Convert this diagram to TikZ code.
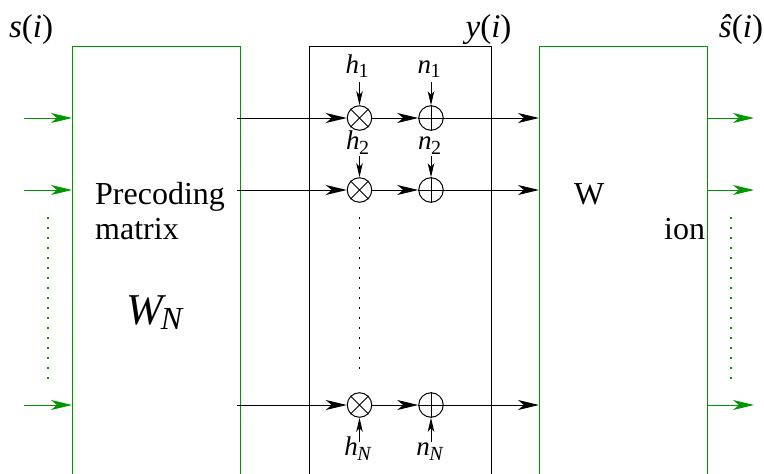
\documentclass[tikz,border=0pt]{standalone}
\usepackage{fontspec}
\setmainfont{Liberation Serif}
\usetikzlibrary{arrows.meta}
\definecolor{grn}{RGB}{0,150,0}
\newcommand{\lowsub}[3]{\textit{#1}\kern-0.5pt\raisebox{-#3pt}{\fontsize{20}{20}\selectfont #2}}
\tikzset{
  lab/.style={inner sep=0pt,anchor=base,font=\fontsize{33}{33}\selectfont},
  small/.style={inner sep=0pt,anchor=base,font=\fontsize{27}{27}\selectfont},
  body/.style={inner sep=0pt,anchor=base west,font=\fontsize{32}{32}\selectfont},
  sum/.style={circle,draw=black,line width=1pt,minimum size=24.5pt,inner sep=0pt},
  bigarrow/.style={line width=1pt,-{Stealth[length=21pt,width=10pt,inset=6pt]}},
  tinyarrow/.style={line width=1pt,-{Stealth[length=14pt,width=6.5pt,inset=3.5pt]}},
  greenline/.style={draw=grn,line width=1pt},
  blackline/.style={draw=black,line width=1pt},
  vdots/.style={line width=1.6pt,dash pattern=on 1.6pt off 8.4pt}
}
\begin{document}
\begin{tikzpicture}[x=1pt,y=-1pt]
\useasboundingbox (0,0) rectangle (764,474);
% boxes (open at the bottom)
\draw[greenline] (72.5,474) -- (72.5,46.5) -- (240.5,46.5) -- (240.5,474);
\draw[blackline] (309.5,474) -- (309.5,46.5) -- (491.5,46.5) -- (491.5,474);
\draw[greenline] (539.5,474) -- (539.5,46.5) -- (707.5,46.5) -- (707.5,474);
% free ends and box edges
\foreach \r/\y in {a/118,b/190,c/405}{
  \coordinate (gi\r) at (24,\y);
  \coordinate (gw\r) at (72,\y);
  \coordinate (bo\r) at (237,\y);
  \coordinate (ri\r) at (539,\y);
  \coordinate (ro\r) at (707,\y);
  \coordinate (ge\r) at (754,\y);
  \node[sum] (m\r) at (359.5,\y) {};
  \node[sum] (p\r) at (431,\y) {};
  \draw[line width=1pt] (m\r.north west) -- (m\r.south east) (m\r.north east) -- (m\r.south west);
  \draw[line width=1pt] (p\r.north) -- (p\r.south) (p\r.west) -- (p\r.east);
  \draw[bigarrow,grn] (gi\r) -- (gw\r);
  \draw[bigarrow] (bo\r) -- (m\r);
  \draw[bigarrow] (m\r) -- (p\r);
  \draw[bigarrow] (p\r) -- (ri\r);
  \draw[bigarrow,grn] (ro\r) -- (ge\r);
}
% dotted lines
\coordinate (dl1) at (48,217); \coordinate (dl2) at (48,384);
\coordinate (dr1) at (731,217); \coordinate (dr2) at (731,384);
\coordinate (dm1) at (359.5,217); \coordinate (dm2) at (359.5,376);
\draw[vdots,grn] (dl1) -- (dl2);
\draw[vdots,grn] (dr1) -- (dr2);
\draw[vdots] (dm1) -- (dm2);
% gain and noise inputs
\coordinate (h1) at (359.5,82); \coordinate (n1) at (431,82);
\coordinate (h2) at (359.5,156); \coordinate (n2) at (431,156);
\coordinate (h3) at (359.5,442); \coordinate (n3) at (431,442);
\draw[tinyarrow] (h1) -- (ma);
\draw[tinyarrow] (n1) -- (pa);
\draw[tinyarrow] (h2) -- (mb);
\draw[tinyarrow] (n2) -- (pb);
\draw[tinyarrow] (h3) -- (mc);
\draw[tinyarrow] (n3) -- (pc);
% labels
\node[lab] (ls) at (31,37) {\textit{s}(\textit{i})};
\node[lab] (ly) at (488.5,37) {\textit{y}(\textit{i})};
\node[lab] (lh) at (741,37) {\textit{ŝ}(\textit{i})};
\node[small] (th1) at (357,73) {\lowsub{h}{1}{4}};
\node[small] (tn1) at (429,73) {\lowsub{n}{1}{4}};
\node[small] (th2) at (357.5,149) {\lowsub{h}{2}{5}};
\node[small] (tn2) at (429.5,149) {\lowsub{n}{2}{5}};
\node[small] (th3) at (358,455) {\lowsub{h}{\textit{N}}{5}};
\node[small] (tn3) at (430,455) {\lowsub{n}{\textit{N}}{5}};
\node[body] (t1) at (95,204) {Precoding};
\node[body] (t2) at (95,239) {matrix};
\node[inner sep=0pt,anchor=base west,font=\fontsize{44}{44}\selectfont\itshape] (t3) at (126,324) {W\kern-2pt\raisebox{-5pt}{\fontsize{32}{32}\selectfont N}};
\node[body] (t4) at (574,204) {W};
\node[body] (t5) at (664,239) {ion};
\end{tikzpicture}
\end{document}
